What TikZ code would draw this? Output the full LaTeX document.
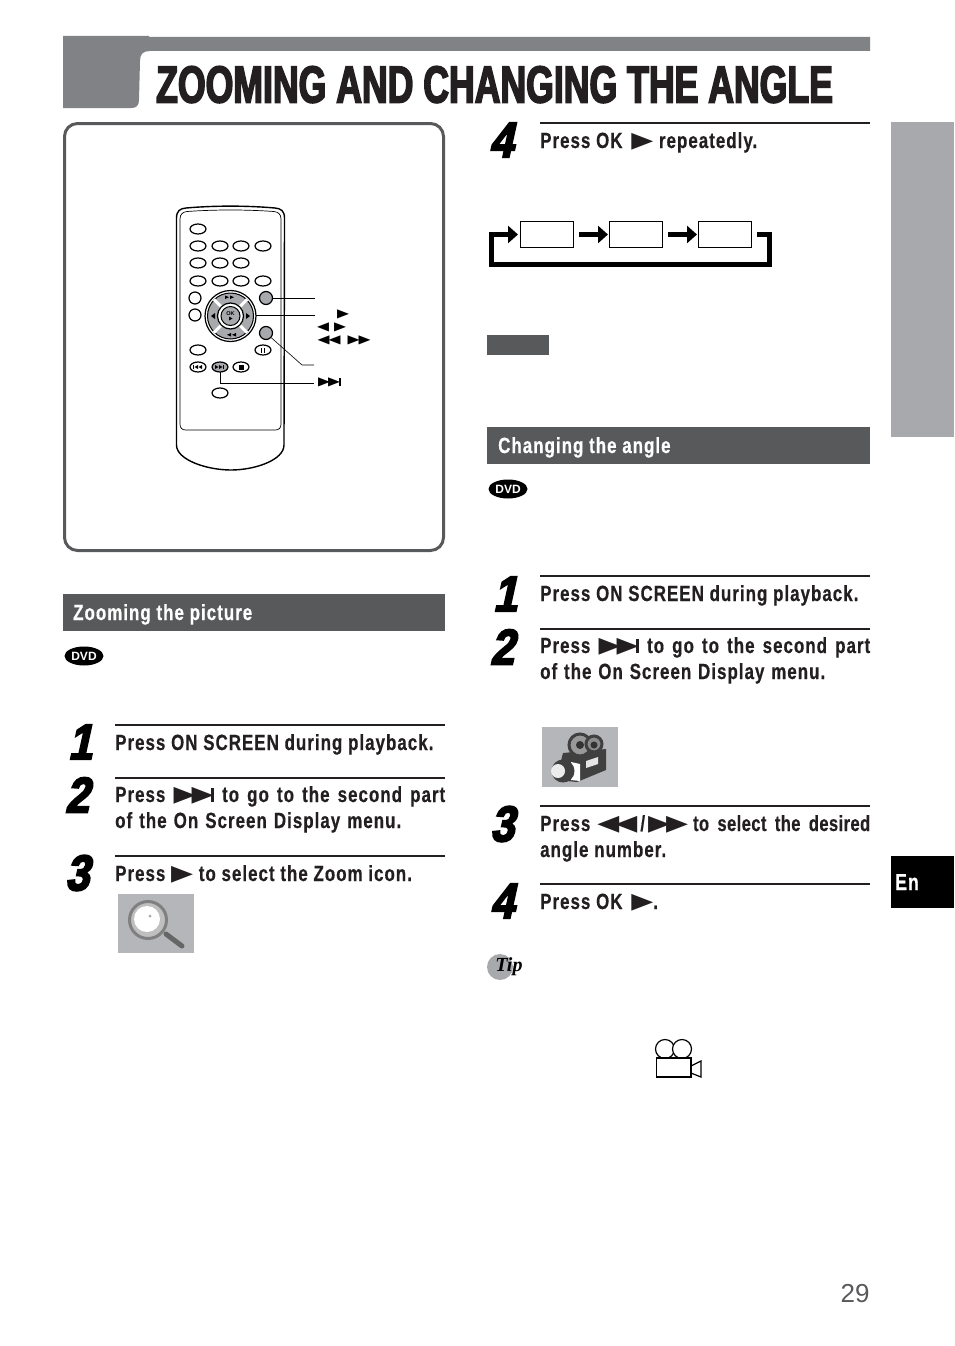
\documentclass[tikz,border=0pt]{standalone}
\usepackage{fontspec}
\usepackage{xcolor}
\usetikzlibrary{arrows.meta,shapes.geometric}

\setmainfont{Liberation Sans}
\newfontfamily\stepfont[FakeStretch=0.77,LetterSpace=4.6,FakeBold=0.5]{Liberation Sans Bold}
\newfontfamily\tightfont[FakeStretch=0.75,LetterSpace=2,FakeBold=0.5]{Liberation Sans Bold}
\newfontfamily\titlefont[FakeStretch=0.685,FakeBold=3]{Liberation Sans Bold}
\newfontfamily\numfont[FakeStretch=0.85,FakeSlant=0.22,FakeBold=4]{Liberation Sans Bold}
\newfontfamily\symfont[FakeStretch=1.3]{DejaVu Sans}
\newfontfamily\tipfont{Liberation Serif}

\definecolor{headgray}{HTML}{808285}
\definecolor{bardark}{HTML}{58595B}
\definecolor{tabgray}{HTML}{A7A9AC}
\definecolor{thumbgray}{HTML}{B5B6B9}
\definecolor{inkblack}{HTML}{231F20}

\newcommand{\fwd}{\raisebox{1pt}{\symfont\fontsize{22}{22}\selectfont ▶}}
\newcommand{\rwd}{\raisebox{1pt}{\symfont\fontsize{22}{22}\selectfont ◀}}
\newcommand{\skp}{\fwd\kern-4pt\fwd\kern-3pt\rule[0pt]{3.5pt}{14pt}}

\tikzset{
	steptext/.style={anchor=base west, inner sep=0pt, text=inkblack, font=\stepfont\fontsize{22}{22}\selectfont},
	steprule/.style={line width=2pt, inkblack},
	bignum/.style={anchor=center, inner sep=0pt, text=black, font=\numfont\fontsize{50}{50}\selectfont},
	secbar/.style={fill=bardark, draw=none},
	sectext/.style={anchor=base west, inner sep=0pt, text=white, font=\stepfont\fontsize{22}{22}\selectfont},
	dvdbadge/.style={ellipse, fill=black, text=white, inner sep=0pt, minimum width=39pt, minimum height=19pt, font=\bfseries\fontsize{12}{12}\selectfont},
	rbtn/.style={line width=1.2pt, draw=black, fill=white},
	greybtn/.style={circle, draw=black, line width=1.2pt, fill=tabgray, minimum size=13pt, inner sep=0pt},
	calloutline/.style={line width=1pt, black},
	flowbox/.style={rectangle, draw=black, line width=1pt, fill=white, minimum width=53pt, minimum height=26pt, inner sep=0pt},
	flowarrow/.style={line width=5pt, black, -{Triangle[length=10pt,width=17pt]}},
	smallsym/.style={anchor=center, inner sep=0pt, font=\symfont\fontsize{12}{12}\selectfont}
}

\begin{document}
\begin{tikzpicture}[x=1pt,y=-1pt]
	\useasboundingbox (0,0) rectangle (954,1346);

	% header
	\fill [headgray] (63,36) -- (149,36) -- (149,37) -- (870,37) -- (870,51) -- (150,51) .. controls (143,51) and (140,54) .. (140,61) -- (139,100) .. controls (139,106) and (136,108) .. (131,108) -- (63,108) -- cycle;
	\node [anchor=base west, inner sep=0pt, text=inkblack, font=\titlefont\fontsize{52}{52}\selectfont] (pagetitle) at (156,102.5) {ZOOMING AND CHANGING THE ANGLE};

	% side tabs
	\fill [tabgray] (891,122) rectangle (954,437);
	\fill [black] (891,856) rectangle (954,908);
	\node [anchor=base, inner sep=0pt, text=white, font=\stepfont\fontsize{23}{23}\selectfont] (entab) at (907,890) {En};
	\node [anchor=base, inner sep=0pt, text=bardark, font=\fontsize{26}{26}\selectfont] (pagenum) at (855,1302) {29};

	% remote frame
	\draw [line width=3pt, bardark, rounded corners=13pt] (64.5,123.5) rectangle (443.5,550.5);

	% remote body
	\draw [line width=1.4pt] (176.5,218) .. controls (176.5,211) and (180,208.5) .. (186,208) .. controls (215,205.5) and (246,205.5) .. (275,208) .. controls (281,208.5) and (284.5,211) .. (284.5,218) -- (284,445) .. controls (284,460) and (255,470) .. (231,470) .. controls (207,470) and (176.5,460) .. (176.5,445) -- cycle;
	\draw [line width=0.7pt] (180,219) .. controls (180,214) and (183,212) .. (187,211.5) .. controls (215,209.5) and (246,209.5) .. (274,211.5) .. controls (278,212) and (281,214) .. (281,219) -- (281,424) .. controls (281,428) and (279,430) .. (275,430) -- (186,430) .. controls (182,430) and (180,428) .. (180,424) -- cycle;

	\draw [rbtn] (198,229) ellipse (8 and 5);
	\draw [rbtn] (198,246) ellipse (8 and 5);
	\draw [rbtn] (220,246) ellipse (8 and 5);
	\draw [rbtn] (241,246) ellipse (8 and 5);
	\draw [rbtn] (263,246) ellipse (8 and 5);
	\draw [rbtn] (198,263) ellipse (8 and 5);
	\draw [rbtn] (220,263) ellipse (8 and 5);
	\draw [rbtn] (241,263) ellipse (8 and 5);
	\draw [rbtn] (198,281) ellipse (8 and 5);
	\draw [rbtn] (220,281) ellipse (8 and 5);
	\draw [rbtn] (241,281) ellipse (8 and 5);
	\draw [rbtn] (263,281) ellipse (8 and 5);
	\draw [rbtn] (195,298) circle (6);
	\draw [rbtn] (195,315) circle (6);
	\draw [rbtn] (198,350) ellipse (8 and 5);
	\draw [rbtn] (263,350) ellipse (8 and 5);
	\draw [rbtn] (198,367) ellipse (8 and 5);
	\draw [rbtn] (241,367) ellipse (8 and 5);
	\draw [rbtn] (220,393) ellipse (8 and 5);
	\draw [rbtn, fill=tabgray] (220,367) ellipse (8 and 5);

	\fill (261,347.5) rectangle (262.3,352.5);
	\fill (263.7,347.5) rectangle (265,352.5);
	\fill (238.5,364.5) rectangle (243.5,369.5);
	\fill (193,365) rectangle (194,369);
	\fill (198,365) -- (198,369) -- (194.5,367) -- cycle;
	\fill (202,365) -- (202,369) -- (198.5,367) -- cycle;
	\fill (215,365) -- (215,369) -- (218.5,367) -- cycle;
	\fill (219,365) -- (219,369) -- (222.5,367) -- cycle;
	\fill (223,365) rectangle (224,369);

	% direction pad
	\draw [line width=1.2pt, fill=white] (230.5,316) circle (25.5);
	\draw [line width=1pt, fill=tabgray] (230.5,316) circle (23);
	\draw [line width=3pt, white] (214,299.5) -- (247,332.5);
	\draw [line width=3pt, white] (214,332.5) -- (247,299.5);
	\draw [line width=1.2pt, fill=white] (230.5,316) circle (13);
	\draw [line width=1pt, fill=tabgray] (230.5,316) circle (9.5);
	\node [inner sep=0pt, font=\bfseries\fontsize{5.5}{5.5}\selectfont] (oklabel) at (230.5,313.5) {OK};
	\fill (229,316.5) -- (229,320.5) -- (232.5,318.5) -- cycle;
	\fill (225,295.5) -- (225,299) -- (229,297.2) -- cycle;
	\fill (230,295.5) -- (230,299) -- (234,297.2) -- cycle;
	\fill (231,333) -- (231,336.5) -- (227,334.8) -- cycle;
	\fill (236,333) -- (236,336.5) -- (232,334.8) -- cycle;
	\fill (215,313) -- (215,319) -- (211,316) -- cycle;
	\fill (246,313) -- (246,319) -- (250,316) -- cycle;

	\node [greybtn] (onscreenbtn) at (266,298) {};
	\node [greybtn] (returnbtn) at (266,333) {};
	\coordinate (nextbtn) at (220,372);
	\coordinate (padedge) at (256,315);
	\coordinate (calloutA) at (315,298);
	\coordinate (calloutB) at (315,315);
	\coordinate (calloutC) at (314,365);
	\coordinate (calloutCk) at (302,365);
	\coordinate (calloutD) at (314,383);

	\draw [calloutline] (onscreenbtn) -- (calloutA);
	\draw [calloutline] (padedge) -- (calloutB);
	\draw [calloutline, line width=0.6pt] (returnbtn) -- (calloutCk) -- (calloutC);
	\draw [calloutline] (nextbtn) |- (calloutD);

	\node [smallsym] (symok) at (343,314) {▶};
	\node [smallsym] (symleft) at (323,327) {◀};
	\node [smallsym] (symright) at (340,327) {▶};
	\node [smallsym] (symrew) at (329,340) {◀\kern-1pt◀};
	\node [smallsym] (symfwd) at (359,340) {▶\kern-1pt▶};
	\node [smallsym] (symskip) at (329.5,382) {▶\kern-2pt▶\kern-1pt\rule[-1pt]{2pt}{8pt}};

	% zooming the picture
	\path [secbar] (63,594) rectangle (445,631);
	\node [sectext] (zoomhead) at (73,620) {Zooming the picture};
	\node [dvdbadge] (dvdzoom) at (84,656) {DVD};

	\node [bignum] (numzoomA) at (80,742) {1};
	\draw [steprule] (115,725) -- (445,725);
	\node [steptext] (zoomstepA) at (115,750) {Press ON SCREEN during playback.};

	\node [bignum] (numzoomB) at (77,795) {2};
	\draw [steprule] (115,777.5) -- (445,777.5);
	\node [steptext] (zoomstepB) at (115,802) {\makebox[330pt][s]{Press \skp{} to go to the second part}};
	\node [steptext] (zoomstepBb) at (115,828) {\makebox[286pt][s]{of the On Screen Display menu.}};

	\node [bignum] (numzoomC) at (77,873) {3};
	\draw [steprule] (115,856) -- (445,856);
	\node [steptext] (zoomstepC) at (115,881) {Press \fwd{} to select the Zoom icon.};

	% magnifier thumbnail
	\fill [thumbgray] (118,894) rectangle (194,953);
	\draw [line width=5pt, line cap=round, black!60] (166,934) -- (182,946);
	\draw [line width=3pt, black!50, fill=black!25] (148,920) circle (18.5);
	\fill [white] (147,919) circle (13);
	\fill [black!35] (150,916) circle (1.5);

	% step 4 and flow
	\node [bignum] (numflow) at (501,140) {4};
	\draw [steprule] (540,123) -- (870,123);
	\node [steptext] (flowstep) at (540,148) {Press OK\kern3pt{} \fwd{} repeatedly.};

	\node [flowbox] (flowA) at (547,234.5) {};
	\node [flowbox] (flowB) at (636,234.5) {};
	\node [flowbox] (flowC) at (725,234.5) {};
	\coordinate (loopright) at (769.5,264.5);
	\coordinate (loopleft) at (491.5,264.5);

	\draw [flowarrow, shorten <=5pt, shorten >=1pt] (flowA) -- (flowB);
	\draw [flowarrow, shorten <=5pt, shorten >=1pt] (flowB) -- (flowC);
	\draw [flowarrow, shorten <=5pt, shorten >=2pt] (flowC.east) -| (loopright) -- (loopleft) |- (flowA.west);

	\fill [bardark] (487,335) rectangle (549,355);

	% changing the angle
	\path [secbar] (487,427) rectangle (870,464);
	\node [sectext] (anglehead) at (498,453) {Changing the angle};
	\node [dvdbadge] (dvdangle) at (508,489) {DVD};

	\node [bignum] (numangleA) at (505,594) {1};
	\draw [steprule] (540,575.5) -- (870,575.5);
	\node [steptext] (anglestepA) at (540,601) {Press ON SCREEN during playback.};

	\node [bignum] (numangleB) at (502,647) {2};
	\draw [steprule] (540,629) -- (870,629);
	\node [steptext] (anglestepB) at (540,653) {\makebox[330pt][s]{Press \skp{} to go to the second part}};
	\node [steptext] (anglestepBb) at (540,679) {\makebox[285pt][s]{of the On Screen Display menu.}};

	% camera thumbnail
	\fill [thumbgray] (542,727) rectangle (618,787);
	\fill [black!75] (563,753) -- (606,749) -- (606,770) -- (577,782) -- (556,780) -- cycle;
	\draw [line width=3pt, black!75, fill=black!40] (580,745) circle (11);
	\draw [line width=3pt, black!75, fill=black!45] (594,744) circle (8);
	\fill [black!80] (580,745) circle (4);
	\fill [black!80] (594,745) circle (3.5);
	\fill [white] (571,762) -- (580,764) -- (580,781) -- (571,780) -- cycle;
	\fill [black!75] (563,771) circle (11.5);
	\fill [white!85!gray] (558,771) circle (7);
	\fill [white!80!gray] (586,761) -- (598,757) -- (598,764) -- (586,768) -- cycle;

	\node [bignum] (numangleC) at (502,824) {3};
	\draw [steprule] (540,805.5) -- (870,805.5);
	\node [steptext] (anglestepC) at (540,831) {\makebox[330pt][s]{Press\kern7pt{}\rwd\kern-4pt\rwd{}\kern3pt/\kern3pt\fwd\kern-4pt\fwd{}\kern5pt{\tightfont to select the desired}}};
	\node [steptext] (anglestepCb) at (540,857) {angle number.};

	\node [bignum] (numangleD) at (502,901) {4};
	\draw [steprule] (540,884) -- (870,884);
	\node [steptext] (anglestepD) at (540,909) {Press OK\kern3pt{} \fwd.};

	% tip
	\fill [tabgray] (500,967) circle (13);
	\node [anchor=center, inner sep=0pt, font=\tipfont\bfseries\itshape\fontsize{20}{20}\selectfont] (tiplabel) at (509,967) {Tip};

	% camera outline
	\draw [line width=1.2pt] (665,1049) circle (9.5);
	\draw [line width=1.2pt, fill=white] (682,1049) circle (9.5);
	\draw [line width=1.2pt, fill=white] (656.5,1058) rectangle (691,1077);
	\draw [line width=1.2pt] (691,1066) -- (701,1061) -- (701,1077) -- (691,1073);
\end{tikzpicture}
\end{document}
